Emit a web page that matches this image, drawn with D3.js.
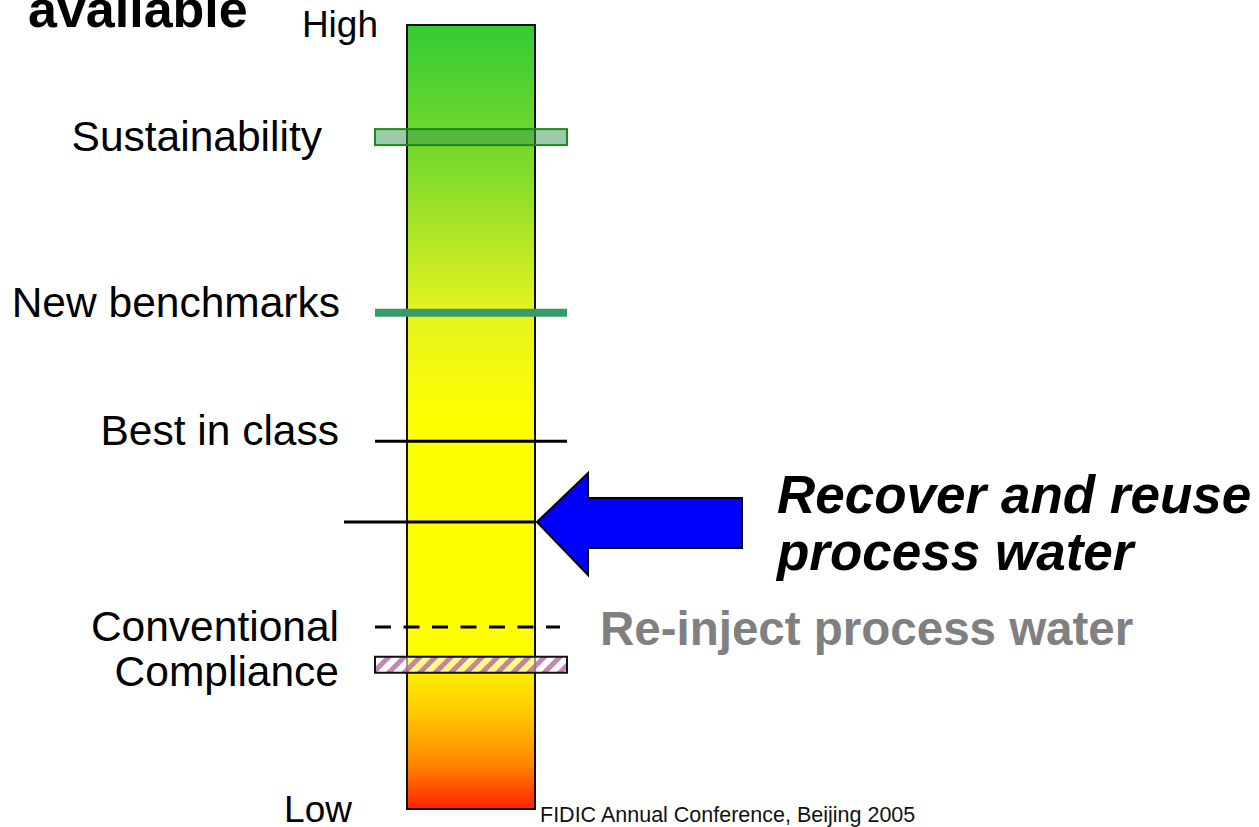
<!DOCTYPE html>
<html lang="en">
<head>
<meta charset="UTF-8">
<title>Performance levels</title>
<script src="https://d3js.org/d3.v7.min.js"></script>
<style>
  body { margin: 0; background: #fff; }
  svg { display: block; font-family: "Liberation Sans", Arial, sans-serif; }
</style>
</head>
<body>
<svg id="chart" width="1259" height="827"></svg>
<script>
// levels on the 0 (Low) .. 100 (High) scale
const levelNames  = ["Sustainability", "New benchmarks", "Best in class", "", "Conventional", "Compliance"];
const levelValues = [85.7, 63.3, 46.9, 36.6, 23.2, 18.4];
const levelKinds  = ["band", "thick", "line", "arrow", "dashed", "hatched"];
const scaleEnds   = ["Low", "High"];
const actionLines = ["Recover and reuse", "process water"];
const sideNote    = "Re-inject process water";
const topWord     = "available";
const footer      = "FIDIC Annual Conference, Beijing 2005";

// layout
const barX0 = 407, barX1 = 535, barTop = 25, barBottom = 809;
const markX0 = 375, markX1 = 567;
const labelRight = [322, 340, 339, 339, 339, 339];
const labelDy    = [14, 4, 4, 0, 14, 21];

const svg = d3.select("#chart");
const y = d3.scaleLinear().domain([0, 100]).range([barBottom, barTop]);

const defs = svg.append("defs");

// bar gradient, high = green, low = red
const grad = defs.append("linearGradient").attr("id", "barGrad")
  .attr("x1", 0).attr("y1", 0).attr("x2", 0).attr("y2", 1);
[[0, "#33cc33"], [0.2, "#88dd2a"], [0.36, "#e2f21e"], [0.5, "#ffff00"],
 [0.8, "#ffff00"], [0.87, "#ffd000"], [0.94, "#ff8a00"], [1, "#ff2200"]]
  .forEach(([o, c]) => grad.append("stop").attr("offset", o).attr("stop-color", c));

// hatch for compliance band
const hatch = defs.append("pattern").attr("id", "hatch")
  .attr("patternUnits", "userSpaceOnUse").attr("width", 11).attr("height", 11)
  .attr("patternTransform", "rotate(45)");
hatch.append("rect").attr("width", 11).attr("height", 11).attr("fill", "#ffffff").attr("opacity", 0.55);
hatch.append("rect").attr("width", 5).attr("height", 11).attr("fill", "#b0609a").attr("opacity", 0.75);

svg.append("rect")
  .attr("x", barX0).attr("y", y(100))
  .attr("width", barX1 - barX0).attr("height", y(0) - y(100))
  .attr("fill", "url(#barGrad)").attr("stroke", "#111").attr("stroke-width", 2);

const levels = levelValues.map((v, i) => ({ v, name: levelNames[i], kind: levelKinds[i], i }));

levels.forEach(d => {
  const yy = y(d.v);
  if (d.kind === "band") {
    svg.append("rect").attr("x", markX0).attr("y", yy - 8).attr("width", markX1 - markX0).attr("height", 16)
      .attr("fill", "#3a9a50").attr("fill-opacity", 0.5).attr("stroke", "#1a8a1a").attr("stroke-width", 2);
  } else if (d.kind === "thick") {
    svg.append("line").attr("x1", markX0).attr("x2", markX1).attr("y1", yy).attr("y2", yy)
      .attr("stroke", "#379a68").attr("stroke-width", 8);
  } else if (d.kind === "line") {
    svg.append("line").attr("x1", markX0).attr("x2", markX1).attr("y1", yy).attr("y2", yy)
      .attr("stroke", "#000").attr("stroke-width", 3);
  } else if (d.kind === "arrow") {
    svg.append("line").attr("x1", 344).attr("x2", barX1).attr("y1", yy).attr("y2", yy)
      .attr("stroke", "#000").attr("stroke-width", 3);
    const tip = barX1 + 2;
    const pts = [[tip, yy], [588, yy - 49], [588, yy - 24], [742, yy - 24],
                 [742, yy + 26], [588, yy + 26], [588, yy + 53]];
    svg.append("path").attr("d", d3.line()(pts) + "Z")
      .attr("fill", "#0000ff").attr("stroke", "#000").attr("stroke-width", 2);
  } else if (d.kind === "dashed") {
    svg.append("line").attr("x1", markX0).attr("x2", 560).attr("y1", yy).attr("y2", yy)
      .attr("stroke", "#000").attr("stroke-width", 3).attr("stroke-dasharray", "16 12.5");
  } else if (d.kind === "hatched") {
    svg.append("rect").attr("x", markX0).attr("y", yy - 8).attr("width", markX1 - markX0).attr("height", 16)
      .attr("fill", "url(#hatch)").attr("stroke", "#111").attr("stroke-width", 2);
  }
  if (d.name) {
    svg.append("text").attr("x", labelRight[d.i]).attr("y", yy + labelDy[d.i])
      .attr("text-anchor", "end").attr("font-size", 42.5).attr("fill", "#000").text(d.name);
  }
});

// ends of the scale
svg.append("text").attr("x", 378).attr("y", 37).attr("text-anchor", "end")
  .attr("font-size", 37).text(scaleEnds[1]);
svg.append("text").attr("x", 352).attr("y", 822).attr("text-anchor", "end")
  .attr("font-size", 37).text(scaleEnds[0]);

svg.append("text").attr("x", 28).attr("y", 27).attr("font-size", 52)
  .attr("font-weight", "bold").text(topWord);

// action text next to the arrow
svg.selectAll(".action").data(actionLines).join("text")
  .attr("class", "action")
  .attr("x", 777).attr("y", (d, i) => 513 + i * 57)
  .attr("font-size", 53).attr("font-weight", "bold").attr("font-style", "italic")
  .text(d => d);

svg.append("text").attr("x", 600).attr("y", 645).attr("font-size", 47.5)
  .attr("font-weight", "bold").attr("fill", "#808080").text(sideNote);

svg.append("text").attr("x", 540).attr("y", 822).attr("font-size", 21.5)
  .attr("fill", "#111").text(footer);
</script>
</body>
</html>
